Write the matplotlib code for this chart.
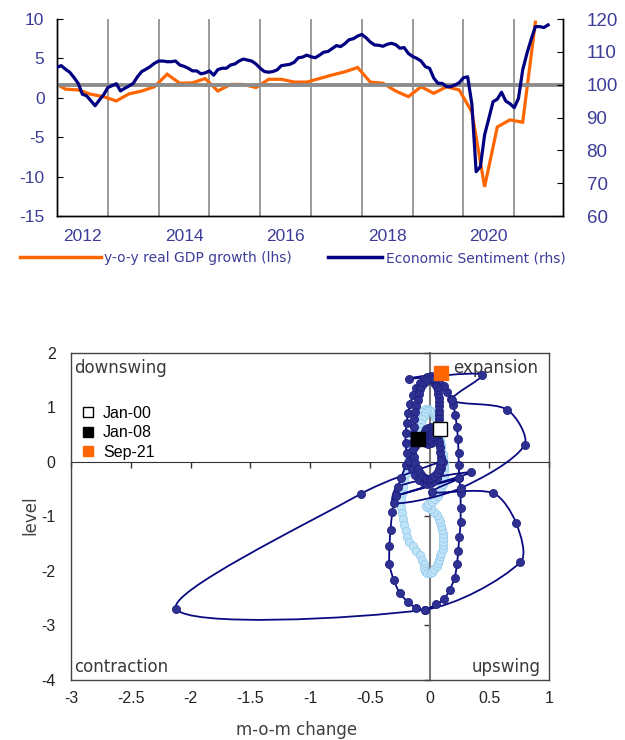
import numpy as np
import matplotlib
matplotlib.use('Agg')
import matplotlib.pyplot as plt
from matplotlib.path import Path
from matplotlib.patches import PathPatch
from matplotlib.lines import Line2D

plt.rcParams['font.family'] = ['Liberation Sans', 'DejaVu Sans']

# ---------------- top chart data ----------------
# economic sentiment, monthly from Jan-2012 to Sep-2021 (rhs)
esi = [105.3, 105.8, 104.7, 103.8, 102.2, 100.4, 97.1, 96.6, 95.1, 93.6, 95.3, 96.9,
       99.1, 99.7, 100.3, 98.1, 98.9, 99.6, 100.4, 102.4, 104.0, 104.7, 105.5, 106.5,
       107.2, 107.2, 107.0, 107.0, 107.2, 106.0, 105.6, 105.0, 104.2, 104.2, 103.3, 103.6,
       104.2, 102.9, 104.6, 105.0, 105.0, 106.0, 106.3, 107.2, 107.8, 107.5, 107.2, 106.3,
       105.0, 104.0, 103.8, 104.0, 104.5, 105.8, 106.0, 106.2, 106.8, 108.2, 108.4, 109.0,
       108.5, 108.2, 109.0, 109.9, 110.1, 111.0, 111.9, 111.6, 112.5, 113.7, 114.0, 114.8,
       115.3, 114.3, 113.0, 112.1, 112.0, 111.7, 112.3, 112.6, 112.2, 111.1, 111.3, 109.5,
       108.6, 108.0, 107.2, 105.5, 105.0, 102.0, 100.4, 100.4, 99.4, 99.4, 99.9, 100.6,
       102.1, 102.4, 94.0, 73.5, 75.0, 84.7, 89.7, 94.8, 95.6, 97.7, 95.0, 94.2,
       93.0, 95.8, 104.5, 109.5, 113.8, 117.7, 117.7, 117.4, 118.2]
# real GDP y-o-y, quarterly from Q4-2011 to Q2-2021 (lhs)
gdp = [2.0, 1.1, 1.0, 0.45, 0.15, -0.4, 0.5, 0.86, 1.4, 3.0,
       1.85, 1.9, 2.45, 0.86, 1.7, 1.7, 1.3, 2.35, 2.35, 2.0,
       2.0, 2.45, 2.9, 3.3, 3.85, 2.0, 1.85, 0.86, 0.15, 1.4,
       0.57, 1.4, 1.0, -1.8, -11.3, -3.7, -2.8, -3.1, 9.6]
year_labels = ['2012', '2014', '2016', '2018', '2020']
grid_years = list(range(2013, 2022))

esi_x = 2012 + np.arange(len(esi)) / 12
gdp_x = 2012 + (np.arange(len(gdp)) * 3 - 1) / 12

# ---------------- bottom chart data ----------------
# Jan-2000 .. Dec-2007 (m-o-m change, level)
pre_x = [0.09, 0.08, 0.07, 0.05, 0.03, 0.01, -0.01, -0.03, -0.05, -0.07, -0.09, -0.11,
         -0.12, -0.13, -0.14, -0.15, -0.16, -0.17, -0.18, -0.19, -0.20, -0.21, -0.22, -0.23,
         -0.24, -0.24, -0.23, -0.22, -0.21, -0.20, -0.19, -0.17, -0.14, -0.11, -0.08, -0.06,
         -0.05, -0.045, -0.04, -0.02, 0.00, 0.02, 0.04, 0.06, 0.07, 0.08, 0.09, 0.10,
         0.11, 0.115, 0.117, 0.115, 0.11, 0.105, 0.10, 0.09, 0.08, 0.06, 0.04, 0.01,
         -0.02, -0.03, -0.01, 0.02, 0.05, 0.07, 0.09, 0.10, 0.11, 0.12, 0.125, 0.125,
         0.12, 0.12, 0.11, 0.11, 0.10, 0.10, 0.09, 0.09, 0.08, 0.08, 0.07, 0.06,
         0.05, 0.04, 0.02, 0.00, -0.02, -0.04, -0.05, -0.06, -0.07, -0.08, -0.09, -0.10]
pre_y = [0.60, 0.68, 0.76, 0.83, 0.89, 0.94, 0.97, 0.98, 0.96, 0.92, 0.86, 0.78,
         0.68, 0.58, 0.47, 0.36, 0.25, 0.13, 0.02, -0.10, -0.22, -0.34, -0.46, -0.58,
         -0.70, -0.82, -0.94, -1.05, -1.16, -1.27, -1.37, -1.46, -1.55, -1.63, -1.71, -1.80,
         -1.88, -1.95, -2.00, -2.03, -2.03, -2.01, -1.97, -1.91, -1.85, -1.79, -1.73, -1.67,
         -1.60, -1.53, -1.46, -1.39, -1.32, -1.25, -1.18, -1.11, -1.04, -0.97, -0.91, -0.86,
         -0.83, -0.80, -0.77, -0.73, -0.68, -0.62, -0.55, -0.48, -0.41, -0.33, -0.25, -0.17,
         -0.09, -0.01, 0.07, 0.15, 0.23, 0.31, 0.39, 0.47, 0.55, 0.63, 0.70, 0.77,
         0.83, 0.88, 0.92, 0.94, 0.93, 0.90, 0.85, 0.79, 0.72, 0.64, 0.56, 0.49]
# Jan-2008 .. Sep-2021 (one row per year)
post_x = [-0.10, -0.12, -0.15, -0.195, -0.24, -0.28, -0.31, -0.326, -0.335, -0.335, -0.30, -0.25,
          -0.18, -0.11, -0.036, 0.056, 0.12, 0.17, 0.21, 0.23, 0.24, 0.25, 0.26, 0.26,
          0.26, 0.25, 0.245, 0.243, 0.237, 0.229, 0.215, 0.20, 0.18, 0.15, 0.12, 0.08,
          0.04, 0.01, -0.02, -0.05, -0.08, -0.11, -0.14, -0.16, -0.18, -0.19, -0.20, -0.20,
          -0.19, -0.17, -0.15, -0.12, -0.09, -0.05, -0.02, 0.01, 0.04, 0.06, 0.08, 0.10,
          0.11, 0.10, 0.09, 0.09, 0.08, 0.07, 0.06, 0.05, 0.04, 0.03, 0.02, 0.01,
          -0.01, -0.03, -0.04, -0.05, -0.05, -0.05, -0.04, -0.03, -0.01, 0.01, 0.03, 0.04,
          0.04, 0.03, 0.02, 0.01, 0.00, -0.01, -0.02, -0.02, -0.02, -0.01, 0.00, -0.01,
          0.00, 0.01, 0.02, 0.03, 0.04, 0.05, 0.06, 0.07, 0.08, 0.08, 0.08, 0.08,
          0.08, 0.08, 0.07, 0.07, 0.06, 0.05, 0.04, 0.03, 0.02, 0.01, 0.00, -0.02,
          -0.04, -0.06, -0.08, -0.09, -0.10, -0.11, -0.12, -0.13, -0.13, -0.14, -0.14, -0.14,
          -0.13, -0.12, -0.10, -0.08, -0.06, -0.04, -0.02, 0.00, 0.02, 0.04, 0.06, 0.08,
          0.09, 0.10, -0.57, -2.12, -0.04, 0.76, 0.725, 0.53, 0.02, 0.25, -0.28, 0.35,
          -0.265, -0.30, 0.26, 0.795, 0.65, 0.19, 0.44, -0.17, 0.10]
post_y = [0.42, 0.30, 0.15, -0.06, -0.30, -0.60, -0.91, -1.24, -1.55, -1.88, -2.16, -2.40,
          -2.57, -2.68, -2.71, -2.61, -2.52, -2.34, -2.13, -1.88, -1.63, -1.37, -1.11, -0.84,
          -0.57, -0.30, -0.05, 0.17, 0.43, 0.65, 0.86, 1.04, 1.16, 1.29, 1.40, 1.48,
          1.54, 1.57, 1.56, 1.52, 1.45, 1.35, 1.22, 1.07, 0.90, 0.72, 0.53, 0.35,
          0.17, 0.01, -0.13, -0.24, -0.33, -0.38, -0.40, -0.39, -0.35, -0.29, -0.21, -0.11,
          0.00, 0.10, 0.19, 0.28, 0.36, 0.43, 0.49, 0.54, 0.58, 0.61, 0.63, 0.64,
          0.63, 0.60, 0.56, 0.51, 0.46, 0.41, 0.37, 0.34, 0.33, 0.34, 0.37, 0.41,
          0.45, 0.48, 0.50, 0.51, 0.51, 0.50, 0.48, 0.46, 0.44, 0.43, 0.43, 0.42,
          0.42, 0.43, 0.45, 0.48, 0.52, 0.57, 0.63, 0.70, 0.78, 0.86, 0.94, 1.02,
          1.10, 1.18, 1.25, 1.32, 1.38, 1.43, 1.47, 1.50, 1.52, 1.53, 1.53, 1.51,
          1.47, 1.41, 1.33, 1.24, 1.14, 1.03, 0.91, 0.78, 0.65, 0.51, 0.37, 0.23,
          0.10, -0.02, -0.12, -0.20, -0.26, -0.30, -0.32, -0.32, -0.30, -0.26, -0.20, -0.13,
          -0.06, 0.01, -0.58, -2.69, -2.71, -1.84, -1.12, -0.57, -0.55, -0.30, -0.62, -0.19,
          -0.45, -0.76, -0.48, 0.31, 0.96, 1.14, 1.60, 1.53, 1.63]

mark_labels = ['Jan-00', 'Jan-08', 'Sep-21']
mark_x = [pre_x[0], post_x[0], post_x[-1]]
mark_y = [pre_y[0], post_y[0], post_y[-1]]
mark_face = ['white', 'black', '#FF6600']
mark_edge = ['black', 'black', '#FF6600']

x_ticks = [-3, -2.5, -2, -1.5, -1, -0.5, 0, 0.5, 1]
x_tick_labels = ['-3', '-2.5', '-2', '-1.5', '-1', '-0.5', '0', '0.5', '1']
y_ticks = [-4, -3, -2, -1, 0, 1, 2]
y_tick_labels = ['-4', '-3', '-2', '-1', '0', '1', '2']

slate = '#3D3D99'


def smooth_path(x, y, s=0.3, sx=119.5, sy=54.7):
    # bezier curve through the points, like a smoothed spreadsheet line
    p = np.column_stack([x, y]).astype(float)
    q = p * [sx, sy]
    n = len(p)
    verts = [p[0]]
    codes = [Path.MOVETO]
    for i in range(n - 1):
        i0, i3 = max(i - 1, 0), min(i + 2, n - 1)
        d01 = np.hypot(*(q[i] - q[i0]))
        d12 = np.hypot(*(q[i + 1] - q[i]))
        d23 = np.hypot(*(q[i3] - q[i + 1]))
        w1 = d12 / (d01 + d12) if d01 + d12 > 0 else 0
        w2 = d12 / (d12 + d23) if d12 + d23 > 0 else 0
        c1 = p[i] + (p[i + 1] - p[i0]) * s * w1
        c2 = p[i + 1] - (p[i3] - p[i]) * s * w2
        verts += [c1, c2, p[i + 1]]
        codes += [Path.CURVE4] * 3
    return Path(verts, codes)


fig = plt.figure(figsize=(6.25, 7.4), dpi=100)

# ================= top chart =================
ax = fig.add_axes([0.0912, 0.7081, 0.8096, 0.2662])
axr = ax.twinx()

ax.set_xlim(2012, 2021.96)
ax.set_ylim(-15, 10)
axr.set_ylim(60, 120)

ax.set_xticks(grid_years)
ax.set_xticklabels([])
ax.set_xticks([int(y) + 0.5 for y in year_labels], labels=year_labels, minor=True)
ax.grid(axis='x', which='major', color='#9a9a9a', lw=1.4)
ax.set_axisbelow(True)
ax.tick_params(axis='x', which='both', length=0, pad=9, labelsize=12.5, labelcolor=slate)
ax.set_yticks([-15, -10, -5, 0, 5, 10])
ax.set_yticklabels(['-15', '-10', '-5', '0', '5', '10'])
ax.tick_params(axis='y', direction='in', length=4, pad=9, labelsize=12.5, labelcolor=slate)
axr.set_yticks([60, 70, 80, 90, 100, 110, 120])
axr.tick_params(axis='y', direction='in', length=4, pad=17, labelsize=13.5, labelcolor=slate)
for a in (ax, axr):
    a.spines['top'].set_visible(False)
    for sp in ('left', 'right', 'bottom'):
        a.spines[sp].set_color('black')
        a.spines[sp].set_linewidth(1.0)

ax.plot(gdp_x, gdp, color='#FF6600', lw=2.3, solid_joinstyle='miter')
axr.axhline(100, color='#8c8c8c', lw=2.8, zorder=1)
axr.plot(esi_x, esi, color='#000080', lw=2.3, zorder=3)

h1 = Line2D([], [], color='#FF6600', lw=2.5)
h2 = Line2D([], [], color='#000080', lw=2.5)
fig.legend([h1], ['y-o-y real GDP growth (lhs)'], loc='center left',
           bbox_to_anchor=(20 / 625, 1 - 258 / 740), frameon=False, borderpad=0,
           borderaxespad=0, handlelength=5.8, handletextpad=0.25, labelcolor=slate,
           prop={'family': 'DejaVu Sans', 'size': 10})
fig.legend([h2], ['Economic Sentiment (rhs)'], loc='center left',
           bbox_to_anchor=(328 / 625, 1 - 258 / 740), frameon=False, borderpad=0,
           borderaxespad=0, handlelength=3.9, handletextpad=0.25, labelcolor=slate,
           prop={'family': 'DejaVu Sans', 'size': 10})

# ================= bottom chart =================
bx = fig.add_axes([0.1136, 0.0811, 0.7648, 0.4419])
bx.set_xlim(-3, 1)
bx.set_ylim(-4, 2)
bx.set_xticks(x_ticks, labels=x_tick_labels)
bx.set_yticks(y_ticks, labels=y_tick_labels)
bx.tick_params(axis='x', length=0, pad=8, labelsize=11.5, labelcolor='#222222')
bx.tick_params(axis='y', length=0, pad=11, labelsize=11.5, labelcolor='#222222')
for sp in bx.spines.values():
    sp.set_color('#444444')
    sp.set_linewidth(1.0)

secx = bx.secondary_xaxis(0, transform=bx.transData)
secx.set_xticks(x_ticks, labels=[''] * len(x_ticks))
secx.tick_params(direction='out', length=4, width=1, color='#333333')
secx.spines['bottom'].set_color('#333333')
secy = bx.secondary_yaxis(0, transform=bx.transData)
secy.set_yticks(y_ticks, labels=[''] * len(y_ticks))
secy.tick_params(direction='out', length=4, width=1, color='#333333')
secy.spines['left'].set_color('#777777')
secy.spines['left'].set_linewidth(1.5)

bx.add_patch(PathPatch(smooth_path(pre_x, pre_y), fc='none', ec='#A9D6F2', lw=1.2, zorder=2))
bx.plot(pre_x, pre_y, 'o', ms=6, mfc='#BFE2F7', mec='#98CDEE', mew=0.6, zorder=3)
bx.add_patch(PathPatch(smooth_path(post_x, post_y), fc='none', ec='#0A0A80', lw=1.3, zorder=4))
bx.plot(post_x, post_y, 'o', ms=5.8, mfc='#2E3192', mec='#1E2080', mew=0.6, zorder=5)

handles = []
for lab, mx, my, fc, ec in zip(mark_labels, mark_x, mark_y, mark_face, mark_edge):
    bx.plot(mx, my, 's', ms=9.5, mfc=fc, mec=ec, mew=1.0, zorder=6)
    handles.append(Line2D([], [], ls='none', marker='s', ms=7.5, mfc=fc, mec=ec, mew=1.0))
bx.legend(handles, mark_labels, loc='upper left', bbox_to_anchor=(0.022, 0.838),
          frameon=False, borderpad=0, borderaxespad=0, handlelength=0.8,
          handletextpad=0.55, labelspacing=0.28, fontsize=11.5)

qfont = {'family': 'DejaVu Sans', 'size': 12, 'color': '#3a3a3a'}
bx.text(0.006, 0.94, 'downswing', transform=bx.transAxes, ha='left', va='baseline', **qfont)
bx.text(0.977, 0.94, 'expansion', transform=bx.transAxes, ha='right', va='baseline', **qfont)
bx.text(0.006, 0.025, 'contraction', transform=bx.transAxes, ha='left', va='baseline', **qfont)
bx.text(0.982, 0.025, 'upswing', transform=bx.transAxes, ha='right', va='baseline', **qfont)

fig.text(30 / 625, 1 - 515 / 740, 'level', rotation=90, ha='center', va='center',
         family='DejaVu Sans', size=12, color='#404040')
fig.text(297 / 625, 1 - 730 / 740, 'm-o-m change', ha='center', va='center',
         family='DejaVu Sans', size=12, color='#404040')

fig.savefig('out.png', dpi=100)
